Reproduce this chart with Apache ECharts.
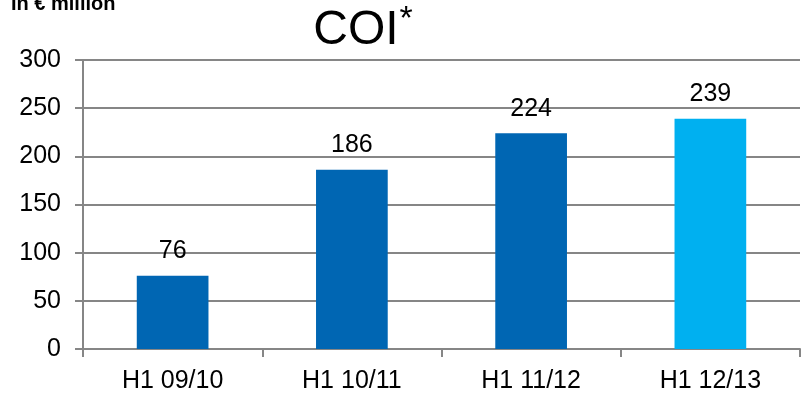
<!DOCTYPE html>
<html>
<head>
<meta charset="utf-8">
<script src="https://cdn.jsdelivr.net/npm/echarts@6/dist/echarts.min.js"></script>
<style>
  html, body { margin: 0; padding: 0; background: #fff; }
  #chart { width: 802px; height: 394px; }
</style>
</head>
<body>
<div id="chart"></div>
<script>
// COI per half-year period, in € million
const categories = ['H1 09/10', 'H1 10/11', 'H1 11/12', 'H1 12/13'];
const coiValues = [76, 186, 224, 239];
const barColors = ['#0066B3', '#0066B3', '#0066B3', '#00B0F0'];
const yTicks = [0, 50, 100, 150, 200, 250, 300];

const chart = echarts.init(document.getElementById('chart'), null, { renderer: 'canvas' });
const font = 'Liberation Sans, Arial, Helvetica, sans-serif';

chart.setOption({
  animation: false,
  backgroundColor: '#ffffff',
  textStyle: { fontFamily: font },
  title: [
    {
      text: '{main|COI}{star|*}',
      left: 358,
      top: -2,
      textAlign: 'center',
      textStyle: {
        rich: {
          main: { fontSize: 48, fontWeight: 'normal', fontFamily: font, color: '#000', verticalAlign: 'bottom', lineHeight: 52 },
          star: { fontSize: 34, fontWeight: 'normal', fontFamily: font, color: '#000', verticalAlign: 'top', lineHeight: 52, padding: [0, 0, 22, 1] }
        }
      }
    },
    {
      text: 'In € million',
      left: 6,
      top: -11,
      textStyle: { fontSize: 20, fontWeight: 'bold', fontFamily: font, color: '#000' }
    }
  ],
  grid: { left: 83, right: 2, top: 60, bottom: 44, containLabel: false },
  xAxis: {
    type: 'category',
    data: categories,
    axisLine: { lineStyle: { color: '#868686', width: 2 } },
    axisTick: { show: true, length: 8, alignWithLabel: false, lineStyle: { color: '#868686', width: 2 } },
    axisLabel: { color: '#000', fontSize: 25, fontFamily: font, margin: 20 }
  },
  yAxis: {
    type: 'value',
    min: yTicks[0],
    max: yTicks[yTicks.length - 1],
    interval: 50,
    axisLine: { show: true, lineStyle: { color: '#868686', width: 2 } },
    axisTick: { show: true, length: 8, inside: false, lineStyle: { color: '#868686', width: 2 } },
    axisLabel: { color: '#000', fontSize: 25, fontFamily: font, margin: 22 },
    splitLine: { show: true, lineStyle: { color: '#868686', width: 2 } }
  },
  series: [{
    type: 'bar',
    data: coiValues.map((v, i) => ({ value: v, itemStyle: { color: barColors[i] } })),
    barWidth: '40%',
    label: {
      show: true,
      position: 'top',
      distance: 12,
      color: '#000',
      fontSize: 25,
      fontFamily: font
    }
  }]
});
</script>
</body>
</html>
